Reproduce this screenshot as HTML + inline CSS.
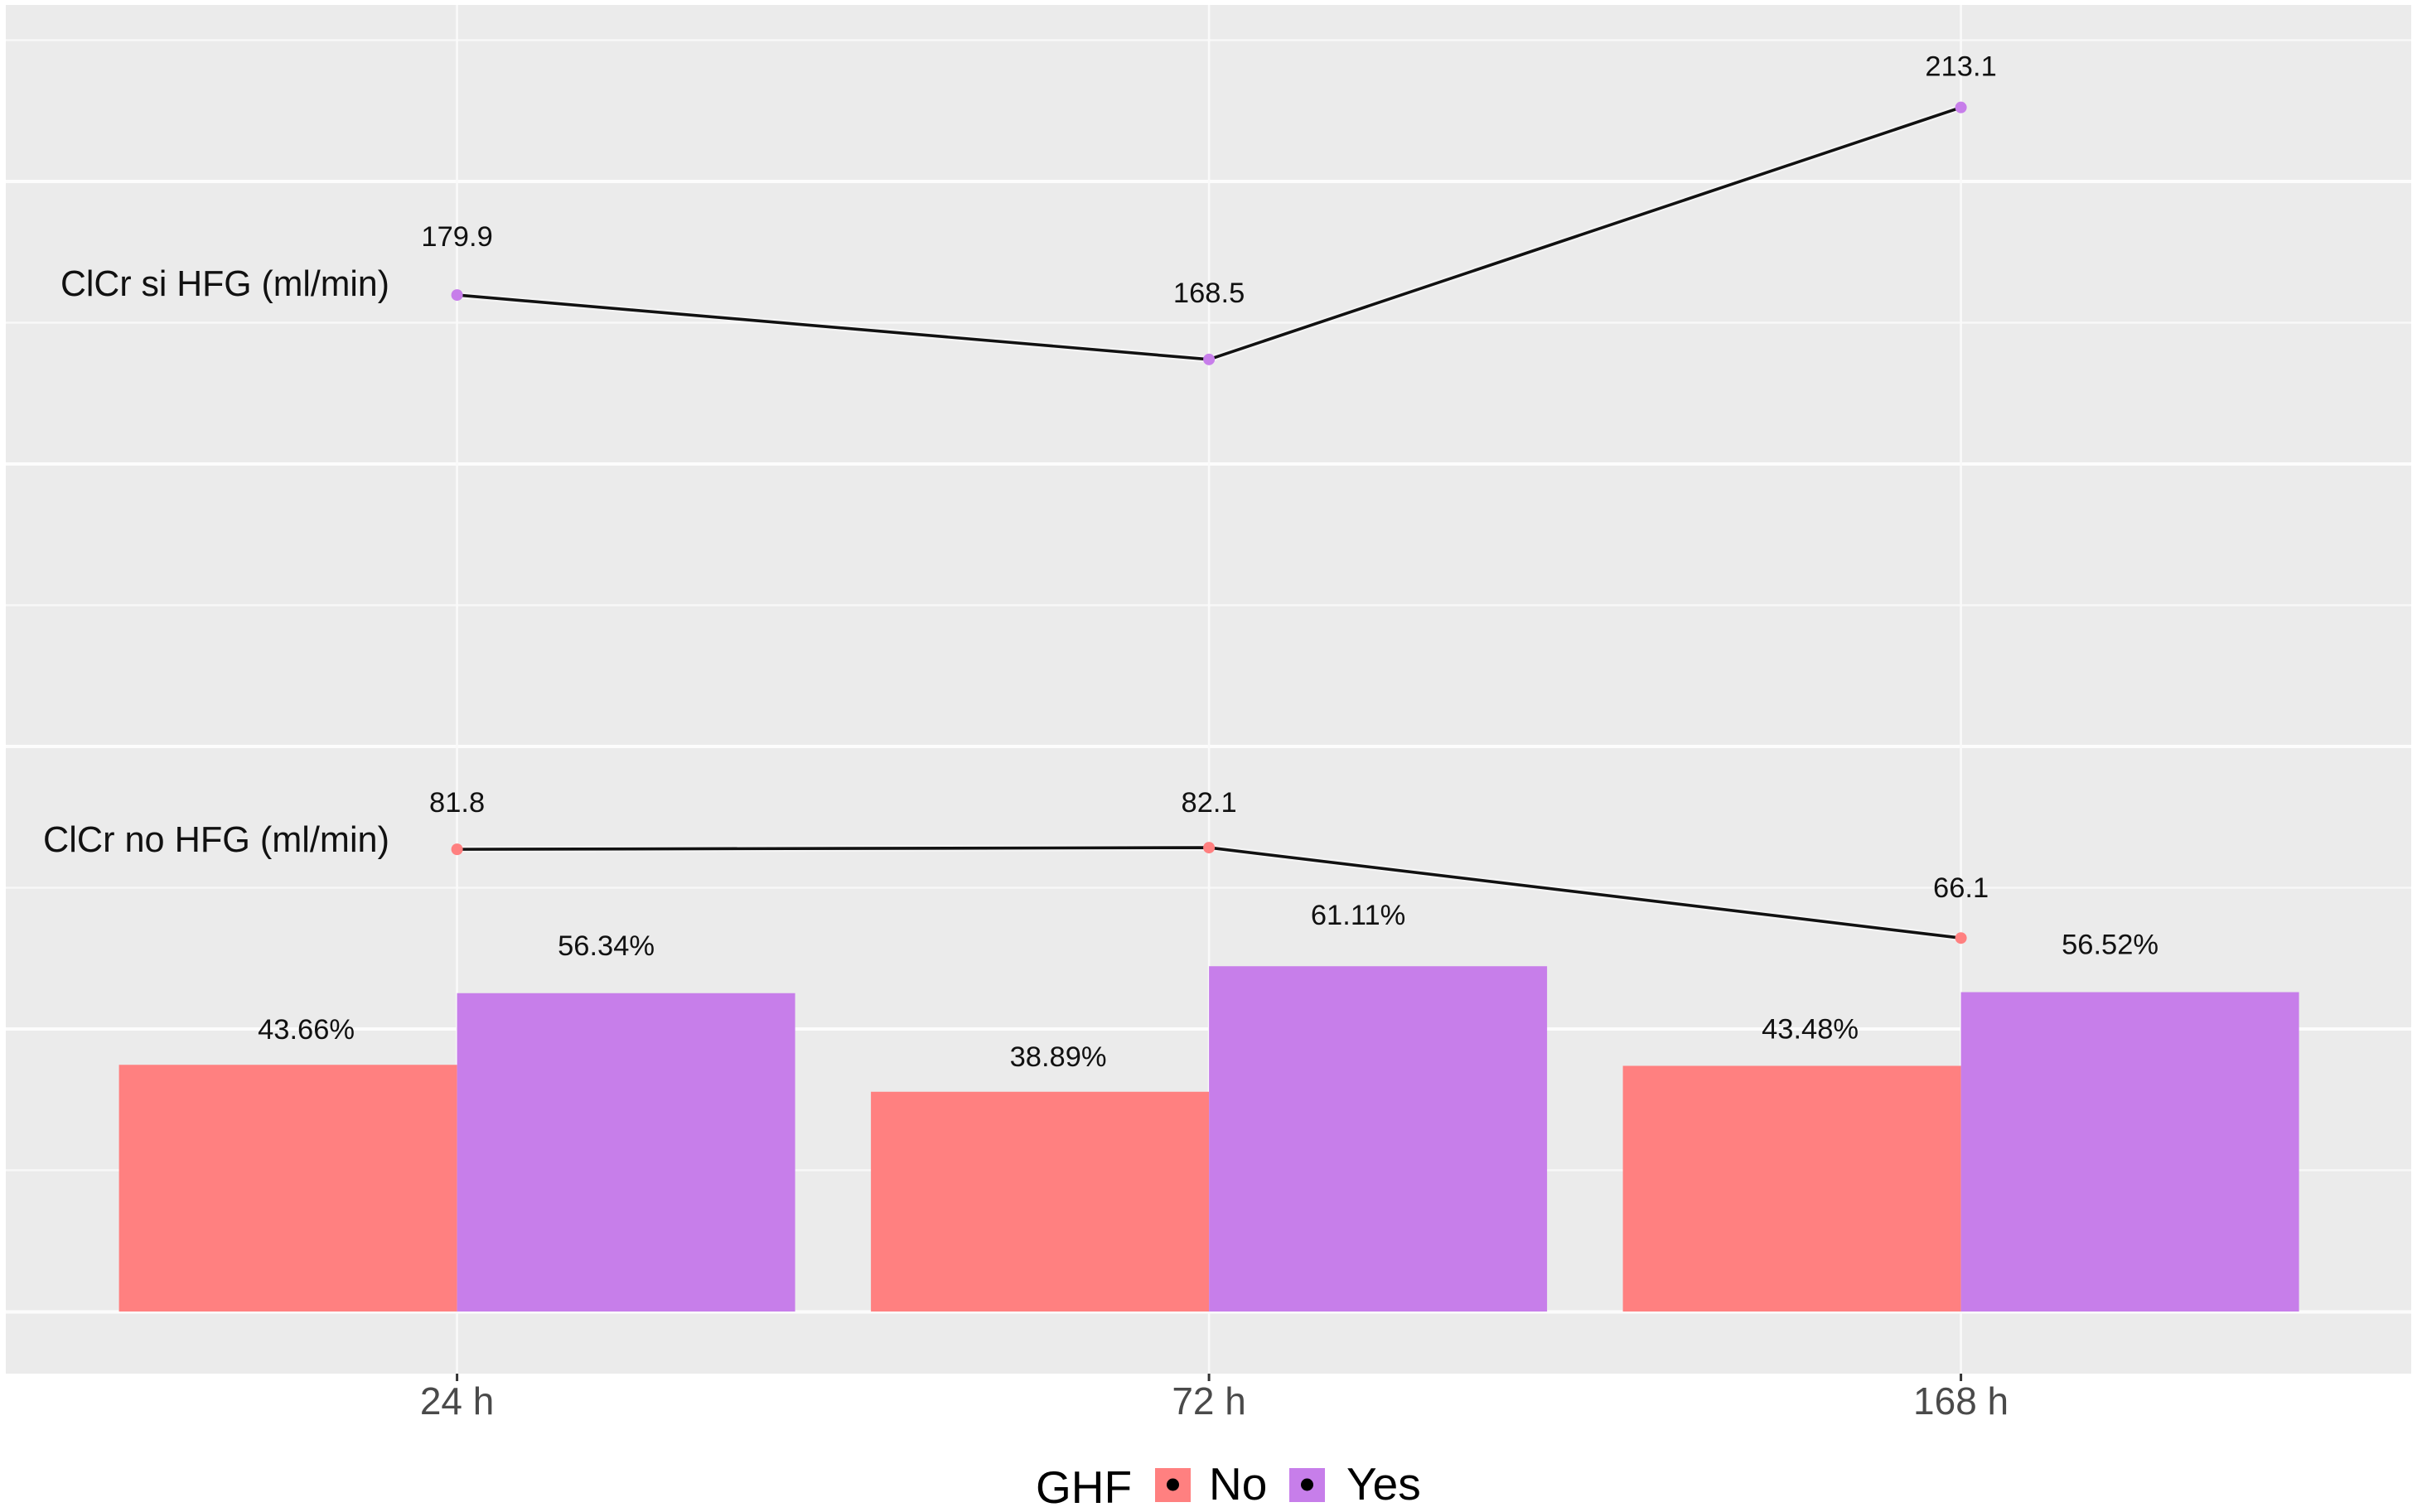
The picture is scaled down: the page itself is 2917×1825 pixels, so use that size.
<!DOCTYPE html>
<html lang="en">
<head>
<meta charset="utf-8">
<title>Creatinine clearance and GHF by time</title>
<style>
  html, body { margin: 0; padding: 0; background: #fff; }
  svg { display: block; font-family: "Liberation Sans", sans-serif; }
</style>
</head>
<body>
<svg id="chart" xmlns="http://www.w3.org/2000/svg" width="2917" height="1825" viewBox="0 0 2917 1825">
  <rect x="0" y="0" width="2917" height="1825" fill="#ffffff"/>
  <rect x="7" y="6" width="2903" height="1652" fill="#ebebeb"/>
  <g id="grid"></g>
  <g id="bars"></g>
  <g id="lines"></g>
  <g id="labels"></g>
  <g id="xaxis"></g>
  <text x="73" y="357" font-size="44" fill="#111" textLength="397" lengthAdjust="spacingAndGlyphs">ClCr si HFG (ml/min)</text>
  <text x="52" y="1028" font-size="44" fill="#111" textLength="418" lengthAdjust="spacingAndGlyphs">ClCr no HFG (ml/min)</text>
  <g>
    <text x="1250" y="1814" font-size="55" fill="#000">GHF</text>
    <g>
      <rect x="1394" y="1772" width="43" height="41" fill="#ff8080"/>
      <ellipse cx="1415.5" cy="1792" rx="7.5" ry="7.5" fill="#000"/>
      <text x="1459" y="1810" font-size="55" fill="#000">No</text>
    </g>
    <g>
      <rect x="1556" y="1772" width="43" height="41" fill="#c77eea"/>
      <ellipse cx="1577.5" cy="1792" rx="7.5" ry="7.5" fill="#000"/>
      <text x="1625" y="1810" font-size="55" fill="#000">Yes</text>
    </g>
  </g>
</svg>
<script>
const categories = ["24 h", "72 h", "168 h"];
const noPercent = [43.66, 38.89, 43.48];
const yesPercent = [56.34, 61.11, 56.52];
const clcrNo = [81.8, 82.1, 66.1];
const clcrYes = [179.9, 168.5, 213.1];
const majorTicks = [0, 50, 100, 150, 200];
const minorTicks = [25, 75, 125, 175, 225];

const NS = "http://www.w3.org/2000/svg";
function xScale(i) { return 551.6 + 907.5 * i; }
function yScale(v) { return 1583 - 6.82 * v; }
const BAR_WIDTH = 408;

function make(parentId, tag, attrs, text) {
  const node = document.createElementNS(NS, tag);
  for (const key in attrs) { node.setAttribute(key, attrs[key]); }
  if (text !== undefined) { node.textContent = text; }
  document.getElementById(parentId).appendChild(node);
  return node;
}

function drawGrid() {
  minorTicks.forEach(function (t) {
    const line = make("grid", "line", { x1: 7, x2: 2910, y1: yScale(t), y2: yScale(t), stroke: "#f8f8f8", "stroke-width": 2.5 });
    
    
  });
  majorTicks.forEach(function (t) {
    const line = make("grid", "line", { x1: 7, x2: 2910, y1: yScale(t) + (t === 0 ? 0.5 : 0), y2: yScale(t) + (t === 0 ? 0.5 : 0), stroke: "#fcfcfc", "stroke-width": 4 });
    
    
  });
  categories.forEach(function (c, i) {
    const line = make("grid", "line", { x1: xScale(i), x2: xScale(i), y1: 6, y2: 1658, stroke: "#fafafa", "stroke-width": 2.6 });
    
    
  });
}

function drawBars() {
  categories.forEach(function (c, i) {
    const barNo = make("bars", "rect", { x: xScale(i) - BAR_WIDTH, y: yScale(noPercent[i]), width: BAR_WIDTH, height: yScale(0) - yScale(noPercent[i]), fill: "#ff8080" });
    
    
    const barYes = make("bars", "rect", { x: xScale(i), y: yScale(yesPercent[i]), width: BAR_WIDTH, height: yScale(0) - yScale(yesPercent[i]), fill: "#c77eea" });
    
    
  });
}

function pointsOf(series) {
  return series.map(function (v, i) { return xScale(i) + "," + yScale(v); }).join(" ");
}

function drawLines() {
  const haloYes = make("lines", "polyline", { points: pointsOf(clcrYes), fill: "none", stroke: "#ffffff", "stroke-opacity": 0.45, "stroke-width": 8 });
  
  
  const haloNo = make("lines", "polyline", { points: pointsOf(clcrNo), fill: "none", stroke: "#ffffff", "stroke-opacity": 0.45, "stroke-width": 8 });
  
  
  const lineYes = make("lines", "polyline", { points: pointsOf(clcrYes), fill: "none", stroke: "#111111", "stroke-width": 3.6 });
  
  
  const lineNo = make("lines", "polyline", { points: pointsOf(clcrNo), fill: "none", stroke: "#111111", "stroke-width": 3.6 });
  
  
  categories.forEach(function (c, i) {
    const pointYes = make("lines", "circle", { cx: xScale(i), cy: yScale(clcrYes[i]), r: 7, fill: "#c77eea" });
    
    
    const pointNo = make("lines", "circle", { cx: xScale(i), cy: yScale(clcrNo[i]), r: 7, fill: "#ff8080" });
    
    
  });
}

function drawLabels() {
  const liftYes = [70, 80, 49];
  const liftNo = [56, 54, 60];
  const liftBarNo = [42, 42, 44];
  const liftBarYes = [57, 61, 57];
  const common = { "font-size": 34.5, "text-anchor": "middle", "dominant-baseline": "central", fill: "#111111" };
  categories.forEach(function (c, i) {
    const a = make("labels", "text", Object.assign({ x: xScale(i), y: yScale(clcrYes[i]) - liftYes[i] }, common), clcrYes[i].toFixed(1));
    
    
    const b = make("labels", "text", Object.assign({ x: xScale(i), y: yScale(clcrNo[i]) - liftNo[i] }, common), clcrNo[i].toFixed(1));
    
    
    const d = make("labels", "text", Object.assign({ x: xScale(i) - 182, y: yScale(noPercent[i]) - liftBarNo[i] }, common), noPercent[i].toFixed(2) + "%");
    
    
    const e = make("labels", "text", Object.assign({ x: xScale(i) + 180, y: yScale(yesPercent[i]) - liftBarYes[i] }, common), yesPercent[i].toFixed(2) + "%");
    
    
  });
}

function drawXAxis() {
  categories.forEach(function (c, i) {
    const tick = make("xaxis", "line", { x1: xScale(i), x2: xScale(i), y1: 1658, y2: 1667, stroke: "#333333", "stroke-width": 3 });
    
    
    const label = make("xaxis", "text", { x: xScale(i), y: 1707, "font-size": 46, "text-anchor": "middle", fill: "#4a4a4a" }, c);
    
    
  });
}

drawGrid();
drawBars();
drawLines();
drawLabels();
drawXAxis();
</script>
</body>
</html>
